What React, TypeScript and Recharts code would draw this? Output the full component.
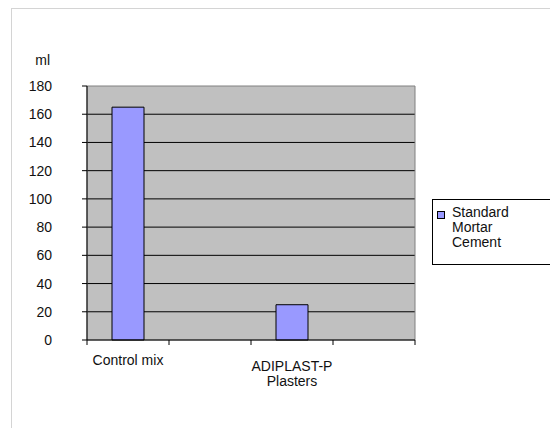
import React from "react";
import { BarChart, Bar, XAxis, YAxis, CartesianGrid, ReferenceArea } from "recharts";

const categories = ["Control mix", "", "ADIPLAST-P\nPlasters", ""];
const seriesName = "Standard Mortar Cement";
const seriesValues = [165, null, 25, null];
const yTicks = [0, 20, 40, 60, 80, 100, 120, 140, 160, 180];
const gridValues = [20, 40, 60, 80, 100, 120, 140, 160];
const unitLabel = "ml";

const data = categories.map((name, i) => ({ name, value: seriesValues[i] }));

const FONT = '"Liberation Sans", Arial, sans-serif';

const CategoryTick = (props: any) => {
  const { x, y, payload, index } = props;
  const half = payload && payload.offset ? payload.offset : 41;
  const lines = String(payload.value).split("\n");
  const first = lines.length > 1 ? 26 : 20;
  return (
    <g>
      <line x1={x - half} x2={x - half} y1={y - 5} y2={y} stroke="#000" />
      {index === categories.length - 1 && (
        <line x1={x + half} x2={x + half} y1={y - 5} y2={y} stroke="#000" />
      )}
      <text x={x} y={y} textAnchor="middle" fontSize={14} fill="#111" fontFamily={FONT}>
        {lines.map((l, i) => (
          <tspan key={i} x={x} y={y + first + i * 15}>
            {l}
          </tspan>
        ))}
      </text>
    </g>
  );
};

const App = () => {
  return (
    <div style={{ position: "relative", width: 550, height: 420, fontFamily: FONT }}>
      <div
        style={{
          position: "absolute",
          left: 3,
          top: 0,
          width: 547,
          height: 420,
          borderLeft: "1px solid #d4d4d4",
          borderTop: "1px solid #d4d4d4",
          boxSizing: "border-box",
        }}
      />
      <span
        style={{
          position: "absolute",
          left: 0,
          top: 44,
          width: 42,
          textAlign: "right",
          fontSize: 14,
          lineHeight: "16px",
          color: "#111",
        }}
      >
        {unitLabel}
      </span>
      <BarChart
        width={550}
        height={420}
        data={data}
        margin={{ top: 78, right: 143, bottom: 28, left: 0 }}
        style={{ position: "absolute", left: 0, top: 0 }}
      >
        <CartesianGrid
          vertical={false}
          horizontalValues={gridValues}
          fill="#c0c0c0"
          stroke="#000"
          strokeOpacity={1}
        />
        <ReferenceArea y1={0} y2={180} fill="none" stroke="#808080" strokeWidth={1} />
        <XAxis
          dataKey="name"
          height={60}
          axisLine={{ stroke: "#000" }}
          tickLine={false}
          tickSize={5}
          tickMargin={0}
          interval={0}
          tick={<CategoryTick />}
        />
        <YAxis
          width={79}
          domain={[0, 180]}
          ticks={yTicks}
          interval={0}
          axisLine={{ stroke: "#000" }}
          tickLine={{ stroke: "#000" }}
          tickSize={5}
          tickMargin={30}
          tick={{ fontSize: 14, fill: "#111", fontFamily: FONT }}
        />
        <Bar
          dataKey="value"
          name={seriesName}
          fill="#9999ff"
          stroke="#000"
          strokeWidth={1}
          barSize={32}
          isAnimationActive={false}
        />
      </BarChart>
      <div
        style={{
          position: "absolute",
          left: 424,
          top: 191,
          width: 124,
          height: 66,
          border: "1px solid #000",
          boxSizing: "border-box",
          background: "#fff",
        }}
      >
        <div
          style={{
            position: "absolute",
            left: 4,
            top: 11,
            width: 6,
            height: 6,
            background: "#9999ff",
            border: "1px solid #000",
          }}
        />
        <div
          style={{
            position: "absolute",
            left: 19,
            top: 5,
            width: 62,
            fontSize: 14,
            lineHeight: "15px",
            color: "#111",
          }}
        >
          {seriesName}
        </div>
      </div>
    </div>
  );
};

export default App;
